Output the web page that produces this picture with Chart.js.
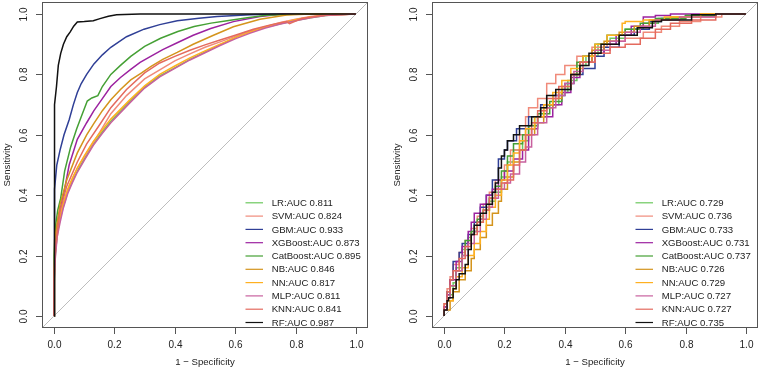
<!DOCTYPE html>
<html>
<head>
<meta charset="utf-8">
<script src="https://cdn.jsdelivr.net/npm/chart.js@4"></script>
<style>
  body { margin: 0; background: #fff; }
  .panel { position: absolute; top: 0; height: 372px; }
  #p1 { left: 0; width: 380px; }
  #p2 { left: 380px; width: 379px; }
</style>
</head>
<body>
<div class="panel" id="p1"><canvas id="trainChart"></canvas></div>
<div class="panel" id="p2"><canvas id="testChart"></canvas></div>
<script>
const models = ["LR", "SVM", "GBM", "XGBoost", "CatBoost", "NB", "NN", "MLP", "KNN", "RF"];
const colors = ["#6cc85e", "#f08a7a", "#2f3f96", "#9c22a0", "#45a035", "#d4941c", "#ffb020", "#c8609e", "#e46a5e", "#111111"];
const trainAuc = [0.811, 0.824, 0.933, 0.873, 0.895, 0.846, 0.817, 0.811, 0.841, 0.987];
const testAuc = [0.729, 0.736, 0.733, 0.731, 0.737, 0.726, 0.729, 0.727, 0.727, 0.735];
const tickValues = [0, 0.2, 0.4, 0.6, 0.8, 1.0];

// left panel: [1 - specificity, sensitivity]
const trainLR = [[0,0],[0,0.1],[0.004,0.2],[0.01,0.27],[0.02,0.32],[0.03,0.36],[0.045,0.41],[0.06,0.445],[0.077,0.48],[0.1,0.52],[0.13,0.57],[0.16,0.61],[0.188,0.645],[0.25,0.71],[0.3,0.758],[0.35,0.795],[0.4,0.822],[0.45,0.85],[0.5,0.874],[0.55,0.898],[0.6,0.922],[0.63,0.938],[0.7,0.956],[0.75,0.968],[0.8,0.979],[0.85,0.988],[0.9,0.995],[0.95,0.999],[1,1]];
const trainSVM = [[0,0],[0,0.12],[0.004,0.21],[0.015,0.3],[0.03,0.37],[0.05,0.43],[0.077,0.49],[0.108,0.54],[0.152,0.61],[0.188,0.67],[0.24,0.73],[0.3,0.785],[0.35,0.815],[0.4,0.845],[0.45,0.868],[0.5,0.89],[0.55,0.908],[0.6,0.926],[0.65,0.943],[0.7,0.958],[0.75,0.972],[0.8,0.983],[0.85,0.992],[0.9,0.997],[1,1]];
const trainGBM = [[0,0],[0,0.3],[0.003,0.42],[0.009,0.5],[0.02,0.55],[0.033,0.6],[0.05,0.65],[0.064,0.7],[0.077,0.74],[0.09,0.77],[0.108,0.8],[0.132,0.835],[0.16,0.865],[0.188,0.89],[0.24,0.925],[0.298,0.95],[0.35,0.965],[0.408,0.978],[0.48,0.986],[0.54,0.992],[0.65,0.998],[0.75,1],[1,1]];
const trainXGB = [[0,0],[0,0.15],[0.005,0.26],[0.015,0.33],[0.033,0.41],[0.05,0.5],[0.077,0.585],[0.108,0.64],[0.132,0.68],[0.16,0.72],[0.188,0.76],[0.22,0.79],[0.254,0.817],[0.285,0.84],[0.32,0.86],[0.36,0.882],[0.408,0.905],[0.461,0.93],[0.519,0.952],[0.594,0.975],[0.682,0.992],[0.76,1],[1,1]];
const trainCat = [[0,0],[0,0.2],[0.005,0.3],[0.012,0.35],[0.022,0.39],[0.035,0.48],[0.055,0.56],[0.075,0.62],[0.09,0.66],[0.11,0.712],[0.125,0.722],[0.145,0.73],[0.16,0.76],[0.188,0.8],[0.22,0.83],[0.254,0.86],[0.3,0.893],[0.353,0.92],[0.41,0.942],[0.464,0.959],[0.52,0.97],[0.573,0.978],[0.64,0.988],[0.704,0.996],[0.815,1],[1,1]];
const trainNB = [[0,0],[0,0.15],[0.003,0.25],[0.02,0.37],[0.042,0.45],[0.077,0.54],[0.108,0.6],[0.132,0.638],[0.16,0.68],[0.188,0.716],[0.22,0.75],[0.254,0.782],[0.29,0.805],[0.32,0.826],[0.36,0.85],[0.408,0.873],[0.461,0.9],[0.528,0.93],[0.594,0.958],[0.682,0.983],[0.77,0.997],[0.85,1],[1,1]];
const trainNN = [[0,0],[0,0.12],[0.004,0.21],[0.01,0.28],[0.02,0.33],[0.03,0.37],[0.045,0.42],[0.06,0.455],[0.077,0.49],[0.1,0.53],[0.13,0.578],[0.16,0.617],[0.188,0.652],[0.25,0.715],[0.3,0.762],[0.35,0.8],[0.4,0.828],[0.45,0.855],[0.5,0.878],[0.55,0.9],[0.6,0.922],[0.65,0.94],[0.7,0.957],[0.75,0.97],[0.8,0.981],[0.85,0.99],[0.9,0.996],[1,1]];
const trainMLP = [[0,0],[0,0.11],[0.004,0.19],[0.01,0.26],[0.02,0.31],[0.03,0.355],[0.045,0.405],[0.06,0.44],[0.077,0.476],[0.1,0.515],[0.13,0.565],[0.16,0.605],[0.188,0.64],[0.25,0.705],[0.3,0.755],[0.35,0.792],[0.4,0.82],[0.45,0.848],[0.5,0.872],[0.55,0.896],[0.6,0.918],[0.65,0.937],[0.7,0.954],[0.75,0.967],[0.8,0.978],[0.85,0.988],[0.9,0.995],[1,1]];
const trainKNN = [[0,0],[0,0.15],[0.004,0.23],[0.02,0.35],[0.042,0.43],[0.077,0.51],[0.108,0.57],[0.152,0.635],[0.188,0.69],[0.24,0.75],[0.3,0.805],[0.35,0.838],[0.4,0.86],[0.45,0.88],[0.5,0.898],[0.55,0.914],[0.6,0.93],[0.66,0.95],[0.72,0.965],[0.77,0.975],[0.78,0.968],[0.82,0.985],[0.9,0.997],[1,1]];
const trainRF = [[0,0],[0,0.55],[0.003,0.7],[0.008,0.76],[0.014,0.83],[0.022,0.87],[0.031,0.9],[0.042,0.925],[0.053,0.94],[0.065,0.96],[0.077,0.974],[0.1,0.975],[0.13,0.978],[0.152,0.985],[0.18,0.993],[0.207,0.998],[0.285,1],[1,1]];

// right panel
const testLR = [[0,0],[0.01,0.03],[0.03,0.07],[0.04,0.11],[0.06,0.16],[0.08,0.22],[0.09,0.26],[0.11,0.28],[0.13,0.31],[0.15,0.35],[0.17,0.38],[0.19,0.41],[0.21,0.46],[0.23,0.51],[0.26,0.55],[0.28,0.58],[0.3,0.62],[0.34,0.66],[0.38,0.7],[0.41,0.74],[0.44,0.78],[0.47,0.83],[0.51,0.86],[0.55,0.9],[0.6,0.92],[0.66,0.95],[0.71,0.97],[0.8,0.985],[0.9,0.995],[1,1]];
const testSVM = [[0,0],[0.01,0.04],[0.02,0.09],[0.03,0.13],[0.05,0.17],[0.07,0.21],[0.09,0.25],[0.11,0.29],[0.13,0.33],[0.15,0.37],[0.17,0.41],[0.2,0.45],[0.22,0.5],[0.25,0.55],[0.27,0.6],[0.28,0.66],[0.31,0.69],[0.34,0.72],[0.37,0.77],[0.4,0.8],[0.44,0.83],[0.49,0.86],[0.54,0.89],[0.6,0.91],[0.66,0.92],[0.72,0.94],[0.78,0.96],[0.85,0.975],[0.92,0.99],[1,1]];
const testGBM = [[0,0],[0.01,0.03],[0.02,0.08],[0.03,0.12],[0.05,0.18],[0.06,0.21],[0.08,0.24],[0.1,0.27],[0.12,0.31],[0.14,0.36],[0.16,0.4],[0.18,0.45],[0.2,0.52],[0.21,0.55],[0.24,0.58],[0.28,0.62],[0.32,0.66],[0.36,0.7],[0.4,0.73],[0.43,0.77],[0.46,0.8],[0.5,0.82],[0.53,0.86],[0.58,0.89],[0.63,0.93],[0.68,0.95],[0.72,0.975],[0.8,0.985],[0.9,0.995],[1,1]];
const testXGB = [[0,0],[0.01,0.03],[0.02,0.07],[0.04,0.12],[0.06,0.18],[0.08,0.23],[0.09,0.28],[0.1,0.31],[0.12,0.34],[0.14,0.37],[0.16,0.4],[0.18,0.42],[0.2,0.45],[0.23,0.48],[0.26,0.52],[0.28,0.55],[0.29,0.6],[0.31,0.62],[0.36,0.66],[0.39,0.7],[0.42,0.74],[0.45,0.79],[0.49,0.84],[0.53,0.87],[0.57,0.9],[0.62,0.93],[0.66,0.96],[0.7,0.99],[0.75,0.995],[1,1]];
const testCat = [[0,0],[0.01,0.02],[0.02,0.06],[0.04,0.1],[0.06,0.15],[0.07,0.2],[0.09,0.25],[0.11,0.28],[0.13,0.32],[0.15,0.35],[0.17,0.39],[0.19,0.43],[0.21,0.48],[0.23,0.53],[0.26,0.57],[0.28,0.6],[0.31,0.63],[0.35,0.67],[0.39,0.71],[0.42,0.75],[0.44,0.8],[0.46,0.84],[0.5,0.86],[0.54,0.9],[0.6,0.93],[0.65,0.95],[0.7,0.97],[0.8,0.985],[0.9,0.995],[1,1]];
const testNB = [[0,0],[0.02,0.02],[0.03,0.05],[0.05,0.08],[0.07,0.12],[0.09,0.15],[0.1,0.19],[0.12,0.22],[0.14,0.26],[0.16,0.3],[0.18,0.34],[0.19,0.38],[0.21,0.42],[0.23,0.46],[0.25,0.51],[0.27,0.55],[0.3,0.6],[0.33,0.64],[0.36,0.69],[0.39,0.72],[0.42,0.76],[0.45,0.8],[0.49,0.84],[0.53,0.88],[0.58,0.91],[0.63,0.94],[0.68,0.96],[0.75,0.98],[0.85,0.99],[1,1]];
const testNN = [[0,0],[0.01,0.02],[0.03,0.05],[0.04,0.09],[0.06,0.13],[0.08,0.16],[0.1,0.2],[0.12,0.24],[0.14,0.28],[0.15,0.32],[0.17,0.36],[0.19,0.4],[0.21,0.45],[0.23,0.5],[0.25,0.54],[0.27,0.58],[0.3,0.62],[0.33,0.66],[0.36,0.7],[0.39,0.74],[0.42,0.78],[0.46,0.82],[0.5,0.86],[0.54,0.9],[0.59,0.93],[0.6,0.97],[0.66,0.975],[0.73,0.98],[0.85,0.99],[1,1]];
const testMLP = [[0,0],[0.01,0.02],[0.02,0.06],[0.04,0.1],[0.06,0.15],[0.08,0.2],[0.1,0.24],[0.12,0.28],[0.14,0.32],[0.16,0.36],[0.18,0.39],[0.2,0.42],[0.22,0.44],[0.25,0.47],[0.27,0.51],[0.29,0.56],[0.31,0.6],[0.34,0.64],[0.37,0.69],[0.4,0.73],[0.43,0.77],[0.46,0.81],[0.5,0.84],[0.55,0.88],[0.6,0.91],[0.65,0.94],[0.7,0.96],[0.78,0.98],[0.9,0.99],[1,1]];
const testKNN = [[0,0],[0.01,0.04],[0.02,0.08],[0.03,0.12],[0.05,0.15],[0.07,0.19],[0.09,0.23],[0.11,0.27],[0.13,0.31],[0.15,0.35],[0.17,0.39],[0.19,0.42],[0.21,0.44],[0.23,0.45],[0.25,0.5],[0.27,0.55],[0.29,0.6],[0.31,0.64],[0.34,0.68],[0.38,0.72],[0.42,0.76],[0.45,0.8],[0.5,0.84],[0.55,0.87],[0.6,0.89],[0.65,0.9],[0.7,0.92],[0.75,0.95],[0.82,0.97],[0.9,0.98],[1,1]];
const testRF = [[0,0],[0.01,0.02],[0.015,0.05],[0.03,0.06],[0.04,0.09],[0.05,0.12],[0.07,0.14],[0.08,0.17],[0.09,0.22],[0.1,0.27],[0.12,0.3],[0.14,0.34],[0.16,0.37],[0.17,0.41],[0.18,0.44],[0.19,0.49],[0.2,0.53],[0.21,0.55],[0.23,0.58],[0.25,0.6],[0.29,0.63],[0.32,0.66],[0.34,0.69],[0.37,0.73],[0.42,0.75],[0.45,0.8],[0.48,0.83],[0.52,0.87],[0.58,0.9],[0.64,0.93],[0.69,0.955],[0.72,0.975],[0.82,0.98],[0.9,0.998],[1,1]];

const trainCurves = [trainLR, trainSVM, trainGBM, trainXGB, trainCat, trainNB, trainNN, trainMLP, trainKNN, trainRF];
const testCurves = [testLR, testSVM, testGBM, testXGB, testCat, testNB, testNN, testMLP, testKNN, testRF];

const FONT = '"Liberation Sans", Arial, sans-serif';

// draws the R style frame, axes, diagonal and legend
const rPlot = {
  id: 'rPlot',
  beforeDatasetsDraw(chart) {
    const ctx = chart.ctx, a = chart.chartArea;
    const xs = chart.scales.x, ys = chart.scales.y;
    ctx.save();
    ctx.beginPath();
    ctx.rect(a.left, a.top, a.right - a.left, a.bottom - a.top);
    ctx.clip();
    ctx.strokeStyle = '#bdbdbd';
    ctx.lineWidth = 1;
    ctx.beginPath();
    ctx.moveTo(xs.getPixelForValue(-0.04), ys.getPixelForValue(-0.04));
    ctx.lineTo(xs.getPixelForValue(1.04), ys.getPixelForValue(1.04));
    ctx.stroke();
    ctx.restore();
  },
  afterDraw(chart, args, opts) {
    const ctx = chart.ctx, a = chart.chartArea;
    const xs = chart.scales.x, ys = chart.scales.y;
    ctx.save();
    ctx.strokeStyle = '#555';
    ctx.lineWidth = 1;
    ctx.strokeRect(a.left + 0.5, a.top + 0.5, a.right - a.left - 1, a.bottom - a.top - 1);

    ctx.fillStyle = '#222';
    ctx.font = '10px ' + FONT;
    tickValues.forEach(v => {
      const px = Math.round(xs.getPixelForValue(v)) + 0.5;
      ctx.beginPath();
      ctx.moveTo(px, a.bottom);
      ctx.lineTo(px, a.bottom + 6);
      ctx.stroke();
      ctx.textAlign = 'center';
      ctx.textBaseline = 'middle';
      ctx.fillText(v.toFixed(1), px, a.bottom + 17.5);

      const py = Math.round(ys.getPixelForValue(v)) + 0.5;
      ctx.beginPath();
      ctx.moveTo(a.left, py);
      ctx.lineTo(a.left - 6, py);
      ctx.stroke();
      ctx.save();
      ctx.translate(a.left - 17.5, py);
      ctx.rotate(-Math.PI / 2);
      ctx.fillText(v.toFixed(1), 0, 0);
      ctx.restore();
    });

    ctx.font = '9.6px ' + FONT;
    ctx.textAlign = 'center';
    ctx.fillText('1 \u2212 Specificity', (a.left + a.right) / 2, a.bottom + 34.5);
    ctx.save();
    ctx.translate(a.left - 34.5, (a.top + a.bottom) / 2);
    ctx.rotate(-Math.PI / 2);
    ctx.fillText('Sensitivity', 0, 0);
    ctx.restore();

    // legend, bottom right, no box
    const aucs = opts.auc;
    ctx.textAlign = 'left';
    for (let i = 0; i < models.length; i++) {
      const y = a.bottom - 5.5 - (models.length - 1 - i) * 13.3;
      ctx.strokeStyle = colors[i];
      ctx.lineWidth = 1.2;
      ctx.beginPath();
      ctx.moveTo(a.right - 122.5, y);
      ctx.lineTo(a.right - 105, y);
      ctx.stroke();
      ctx.fillStyle = '#222';
      ctx.fillText(models[i] + ':AUC ' + aucs[i].toFixed(3), a.right - 96.3, y + 0.5);
    }
    ctx.restore();
  }
};

function rocConfig(curves, auc, pad, stepped) {
  return {
    type: 'line',
    data: {
      datasets: curves.map((c, i) => ({
        label: models[i],
        data: c,
        borderColor: colors[i],
        borderWidth: 1.5,
        pointRadius: 0,
        fill: false,
        tension: 0,
        stepped: stepped,
        order: models.length - i
      }))
    },
    options: {
      responsive: true,
      maintainAspectRatio: false,
      animation: false,
      layout: { padding: pad },
      scales: {
        x: { type: 'linear', min: -0.04, max: 1.04, display: false },
        y: { type: 'linear', min: -0.04, max: 1.04, display: false }
      },
      plugins: {
        legend: { display: false },
        tooltip: { enabled: false },
        rPlot: { auc: auc }
      }
    },
    plugins: [rPlot]
  };
}

new Chart("trainChart", rocConfig(trainCurves, trainAuc, { left: 42, right: 12, top: 2, bottom: 44 }, false));
new Chart("testChart", rocConfig(testCurves, testAuc, { left: 52, right: 1, top: 2, bottom: 44 }, 'after'));
</script>
</body>
</html>
